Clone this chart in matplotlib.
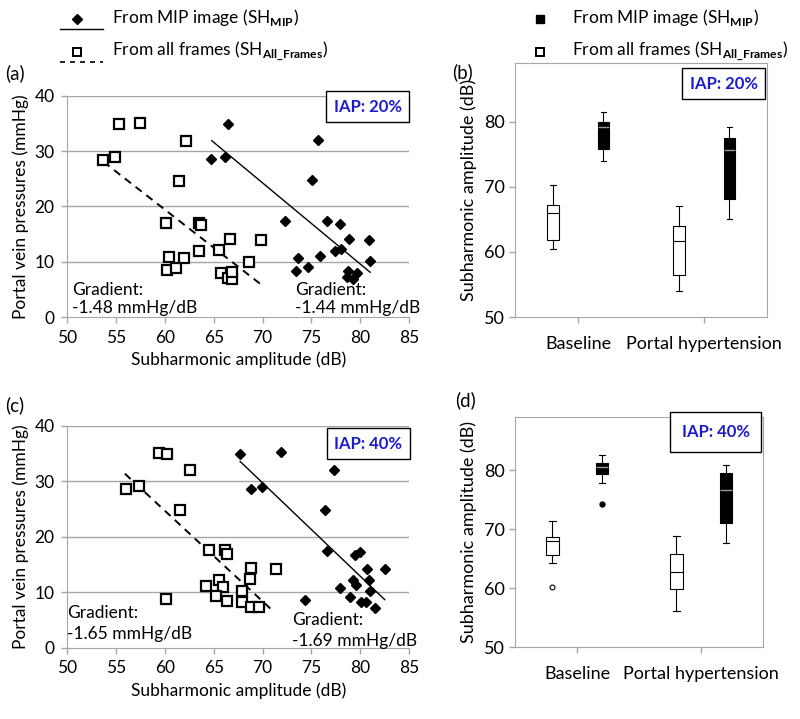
import matplotlib
matplotlib.use('Agg')
import matplotlib.pyplot as plt
from matplotlib.lines import Line2D

plt.rcParams['font.family'] = ['Lato', 'DejaVu Sans']
plt.rcParams['mathtext.fontset'] = 'custom'
plt.rcParams['mathtext.rm'] = 'Lato'
plt.rcParams['mathtext.bf'] = 'Lato:bold'

# ---- scatter data, IAP 20% ----
a_all_x = [53.7, 54.9, 55.3, 57.5, 62.2, 61.4, 60.1, 63.5, 63.7, 60.4, 60.2,
           61.1, 62.0, 63.5, 65.5, 66.7, 69.8, 68.6, 65.7, 66.5, 66.9, 66.9]
a_all_y = [28.5, 28.9, 35.0, 35.2, 31.9, 24.6, 17.1, 17.1, 16.6, 10.9, 8.5,
           8.9, 10.6, 12.0, 12.2, 14.2, 14.0, 9.9, 8.0, 7.0, 6.9, 8.2]
a_mip_x = [66.5, 64.7, 66.1, 75.7, 75.1, 72.3, 76.6, 77.9, 78.8, 80.9, 77.4,
           78.0, 75.9, 73.6, 73.4, 74.6, 81.0, 78.7, 78.6, 79.2, 79.7]
a_mip_y = [35.0, 28.6, 28.9, 32.0, 24.8, 17.3, 17.3, 16.9, 14.2, 14.0, 12.0,
           12.3, 11.0, 10.7, 8.4, 9.0, 10.1, 8.3, 7.2, 6.9, 8.0]
a_fit_mip_x = [64.8, 81.0]
a_fit_mip_y = [31.9, 8.1]
a_fit_all_x = [53.7, 69.9]
a_fit_all_y = [28.1, 5.8]

# ---- scatter data, IAP 40% ----
c_all_x = [56.0, 57.3, 59.4, 60.2, 62.6, 61.5, 64.5, 66.1, 66.4, 68.8, 71.4,
           68.7, 65.5, 64.2, 65.9, 65.2, 66.4, 67.9, 67.9, 68.8, 69.6, 60.1]
c_all_y = [28.6, 29.1, 35.2, 35.0, 32.1, 24.9, 17.6, 17.6, 17.0, 14.4, 14.2,
           12.5, 12.3, 11.2, 10.9, 9.3, 8.4, 10.2, 8.3, 7.4, 7.3, 8.8]
c_mip_x = [67.7, 71.9, 77.3, 68.8, 69.9, 76.4, 76.6, 79.5, 80.0, 80.7, 82.5,
           80.9, 79.2, 79.6, 77.9, 81.0, 78.9, 74.3, 80.1, 80.6, 81.5]
c_mip_y = [35.0, 35.3, 32.0, 28.6, 29.0, 24.8, 17.4, 16.8, 17.3, 14.3, 14.2,
           12.3, 12.3, 11.4, 10.8, 10.2, 9.1, 8.7, 8.3, 8.2, 7.2]
c_fit_mip_x = [67.7, 82.5]
c_fit_mip_y = [33.6, 8.7]
c_fit_all_x = [55.9, 71.1]
c_fit_all_y = [31.4, 6.6]

# ---- box plot summaries (whislo, q1, med, q3, whishi) ----
groups = ['Baseline', 'Portal hypertension']
b_all_stats = [(60.4, 61.8, 65.9, 67.2, 70.2), (54.0, 56.5, 61.7, 63.9, 67.1)]
b_mip_stats = [(73.9, 75.8, 79.1, 80.0, 81.5), (65.0, 68.1, 75.7, 77.5, 79.2)]
d_all_stats = [(64.2, 65.6, 67.9, 68.7, 71.4), (56.1, 59.8, 62.7, 65.8, 68.9)]
d_mip_stats = [(77.8, 79.3, 80.6, 81.2, 82.5), (67.7, 71.0, 76.7, 79.5, 80.9)]
d_all_fliers = [[60.2], []]
d_mip_fliers = [[74.3], []]

GRID = '#a6a6a6'
BLUE = '#1c1ccc'
TICK_FS = 12.5
LBL_FS = 12.5
LEG_FS = 12.5

fig = plt.figure(figsize=(8.0, 7.19), dpi=100)


def fpos(x, y):
    return x / 800, 1 - y / 719


def add_iap(ax, x, y, label, pad=0.45):
    ax.text(x, y, label, transform=ax.transAxes, ha='center', va='center',
            fontsize=12, fontweight='bold', color=BLUE, zorder=5,
            bbox=dict(boxstyle=f'square,pad={pad}', fc='white', ec='black', lw=1))


def scatter_panel(rect, all_x, all_y, mip_x, mip_y, fam, fmip, grads):
    ax = fig.add_axes(rect)
    ax.plot(all_x, all_y, 's', ms=6.5, mfc='white', mec='black', mew=1.6, zorder=3)
    ax.plot(mip_x, mip_y, 'D', ms=5.5, color='black', zorder=3)
    ax.plot(fmip[0], fmip[1], '-', color='black', lw=1.0, zorder=2)
    ax.plot(fam[0], fam[1], '--', color='black', lw=1.4, dashes=(4, 3), zorder=2)
    ax.set_xlim(50, 85)
    ax.set_ylim(0, 40)
    ax.set_xticks(range(50, 90, 5))
    ax.set_yticks(range(0, 50, 10))
    for v in (10, 20, 30, 40):
        ax.axhline(v, color=GRID, lw=1.0, zorder=1)
    for s in ('top', 'right'):
        ax.spines[s].set_visible(False)
    for s in ('left', 'bottom'):
        ax.spines[s].set_color(GRID)
    ax.tick_params(colors=GRID, labelcolor='black', labelsize=TICK_FS, length=4,
                   width=1, pad=5)
    ax.set_ylabel('Portal vein pressures (mmHg)', fontsize=LBL_FS, labelpad=4)
    ax.set_xlabel('Subharmonic amplitude (dB)', fontsize=LBL_FS, labelpad=4)
    for (x, y1, y2, g) in grads:
        ax.text(x, y1, 'Gradient:', fontsize=12.5, va='baseline')
        ax.text(x, y2, g, fontsize=12.5, va='baseline')
    return ax


def box_panel(rect, all_stats, mip_stats, all_fl, mip_fl):
    ax = fig.add_axes(rect)
    keys = ('whislo', 'q1', 'med', 'q3', 'whishi')
    st_all = [dict(zip(keys, s), fliers=f) for s, f in zip(all_stats, all_fl)]
    st_mip = [dict(zip(keys, s), fliers=f) for s, f in zip(mip_stats, mip_fl)]
    thin = dict(color='black', lw=0.8)
    ax.bxp(st_all, positions=[-0.2, 0.8], widths=0.1, showfliers=True,
           patch_artist=True,
           boxprops=dict(facecolor='white', edgecolor='black', lw=0.8),
           medianprops=thin, whiskerprops=thin, capprops=thin,
           flierprops=dict(marker='o', ms=3.5, mfc='white', mec='black', mew=0.8))
    ax.bxp(st_mip, positions=[0.2, 1.2], widths=0.09, showfliers=True,
           patch_artist=True,
           boxprops=dict(facecolor='black', edgecolor='black', lw=0.8),
           medianprops=dict(color='#9a9a9a', lw=1.0), whiskerprops=thin,
           capprops=thin,
           flierprops=dict(marker='o', ms=3.5, mfc='black', mec='black'))
    ax.set_xlim(-0.5, 1.5)
    ax.set_ylim(50, 89)
    ax.set_yticks([50, 60, 70, 80])
    ax.set_xticks([0, 1])
    ax.set_xticklabels(groups)
    for s in ax.spines.values():
        s.set_color(GRID)
    ax.tick_params(colors=GRID, labelcolor='black', labelsize=13, length=4,
                   width=1)
    ax.tick_params(axis='x', pad=10)
    ax.set_ylabel('Subharmonic amplitude (dB)', fontsize=13, labelpad=5)
    return ax


ax_a = scatter_panel([0.084, 0.5591, 0.4275, 0.3074],
                     a_all_x, a_all_y, a_mip_x, a_mip_y,
                     (a_fit_all_x, a_fit_all_y), (a_fit_mip_x, a_fit_mip_y),
                     [(50.5, 4.0, 0.7, '-1.48 mmHg/dB'),
                      (73.3, 4.0, 0.7, '-1.44 mmHg/dB')])
add_iap(ax_a, 0.879, 0.952, 'IAP: 20%')

ax_c = scatter_panel([0.084, 0.0988, 0.4275, 0.3088],
                     c_all_x, c_all_y, c_mip_x, c_mip_y,
                     (c_fit_all_x, c_fit_all_y), (c_fit_mip_x, c_fit_mip_y),
                     [(50.0, 5.4, 1.6, '-1.65 mmHg/dB'),
                      (73.0, 4.1, 0.4, '-1.69 mmHg/dB')])
add_iap(ax_c, 0.88, 0.919, 'IAP: 40%')

ax_b = box_panel([0.644, 0.5591, 0.315, 0.3533],
                 b_all_stats, b_mip_stats, [[], []], [[], []])
add_iap(ax_b, 0.827, 0.919, 'IAP: 20%')

ax_d = box_panel([0.644, 0.1001, 0.31, 0.3199],
                 d_all_stats, d_mip_stats, d_all_fliers, d_mip_fliers)
add_iap(ax_d, 0.808, 0.935, 'IAP: 40%', pad=0.7)

# panel letters
for lbl, (x, y) in zip(['(a)', '(b)', '(c)', '(d)'],
                       [(5, 73), (452, 72), (5, 405), (455, 400)]):
    fig.text(*fpos(x, y), lbl, fontsize=13.5, va='center')

# legends
mip_lbl = r'From MIP image (SH$_{\mathbf{MIP}}$)'
all_lbl = r'From all frames (SH$_{\mathbf{All\_Frames}}$)'
T = fig.transFigure
fx = lambda x: x / 800
fy = lambda y: 1 - y / 719
fig.add_artist(Line2D([fx(77)], [fy(19)], marker='D', ms=5, color='black',
                      ls='none', transform=T))
fig.add_artist(Line2D([fx(60), fx(103)], [fy(29), fy(29)], color='black',
                      lw=1.0, transform=T))
fig.add_artist(Line2D([fx(77)], [fy(52)], marker='s', ms=5.5, mfc='white',
                      mec='black', mew=1.4, ls='none', transform=T))
fig.add_artist(Line2D([fx(60), fx(103)], [fy(62), fy(62)], color='black',
                      lw=1.2, ls='--', dashes=(3, 3), transform=T))
fig.text(*fpos(112, 18), mip_lbl, fontsize=LEG_FS, va='center')
fig.text(*fpos(112, 51), all_lbl, fontsize=LEG_FS, va='center')

fig.add_artist(Line2D([fx(540)], [fy(19)], marker='s', ms=6, color='black',
                      ls='none', transform=T))
fig.add_artist(Line2D([fx(540)], [fy(52)], marker='s', ms=5.5, mfc='white',
                      mec='black', mew=1.4, ls='none', transform=T))
fig.text(*fpos(572, 18), mip_lbl, fontsize=LEG_FS, va='center')
fig.text(*fpos(572, 51), all_lbl, fontsize=LEG_FS, va='center')

fig.savefig('out.png', dpi=100)
